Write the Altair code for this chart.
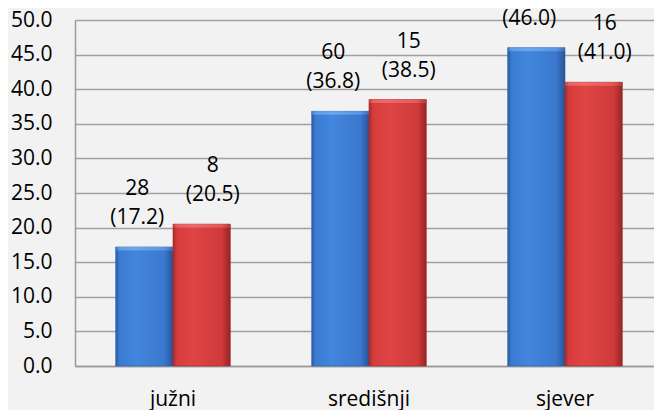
import altair as alt
import pandas as pd

categories = ["južni", "središnji", "sjever"]
series = ["prvi", "drugi"]
blue_pct = [17.2, 36.8, 46.0]
red_pct = [20.5, 38.5, 41.0]
blue_n = [28, 60, 75]
red_n = [8, 15, 16]
y_ticks = [0, 5, 10, 15, 20, 25, 30, 35, 40, 45, 50]

rows = []
for c, p, n in zip(categories, blue_pct, blue_n):
    rows.append({"cat": c, "series": series[0], "pct": p, "label": f"{n}\n({p:.1f})"})
for c, p, n in zip(categories, red_pct, red_n):
    rows.append({"cat": c, "series": series[1], "pct": p, "label": f"{n}\n({p:.1f})"})
df = pd.DataFrame(rows)

FONT = "Open Sans"


def hgrad(c_edge_l, c_mid1, c_mid2, c_mid3, c_edge_r):
    return alt.Gradient(
        gradient="linear", x1=0, x2=1, y1=0, y2=0,
        stops=[
            alt.GradientStop(offset=0, color=c_edge_l),
            alt.GradientStop(offset=0.07, color=c_mid1),
            alt.GradientStop(offset=0.35, color=c_mid2),
            alt.GradientStop(offset=0.85, color=c_mid3),
            alt.GradientStop(offset=1, color=c_edge_r),
        ],
    )


blue_grad = hgrad("#2a5ba6", "#3b7bd2", "#4286dd", "#3a78cd", "#2a5296")
red_grad = hgrad("#a82a2a", "#d63c3c", "#de4444", "#d03a3a", "#962424")
blue_top = hgrad("#3f78c4", "#5f9de8", "#6aa6ee", "#5a96e0", "#3a6cb4")
red_top = hgrad("#c04040", "#e86262", "#ee6a6a", "#e05a5a", "#b03a3a")

x_enc = alt.X(
    "cat:N", sort=categories, title=None,
    scale=alt.Scale(range=[0, 588], paddingInner=0.415, paddingOuter=0.2075),
    axis=alt.Axis(labelAngle=0, labelFontSize=21, labelFont=FONT, labelColor="#000000",
                  ticks=False, domainColor="#9a9a9a", domainWidth=1.5, labelPadding=22),
)
xoff = alt.XOffset("series:N", sort=series, scale=alt.Scale(paddingInner=0, paddingOuter=0))
y_enc = alt.Y(
    "pct:Q", title=None,
    scale=alt.Scale(domain=[0, 50], nice=False),
    axis=alt.Axis(values=y_ticks, format=".1f", labelFontSize=21, labelFont=FONT,
                  labelColor="#000000", ticks=False, domainColor="#9a9a9a", domainWidth=1.5,
                  gridColor="#a0a0a0", gridWidth=1.5, labelPadding=23, labelOverlap=False),
)

base = alt.Chart(df).transform_calculate(cap="datum.pct - 0.5")


def bars(s, grad, stroke):
    return base.transform_filter(alt.datum.series == s).mark_bar(
        color=grad, stroke=stroke, strokeWidth=0.6
    ).encode(x=x_enc, xOffset=xoff, y=y_enc)


def caps(s, grad):
    return base.transform_filter(alt.datum.series == s).mark_bar(color=grad).encode(
        x=x_enc, xOffset=xoff, y=y_enc, y2="cap:Q"
    )


def labels(s, dx):
    return base.transform_filter(alt.datum.series == s).mark_text(
        font=FONT, fontSize=21, color="#000000", lineBreak="\n", lineHeight=29,
        baseline="middle", dy=-58, dx=dx,
    ).encode(x=x_enc, xOffset=xoff, y=y_enc, text="label:N")


chart = alt.layer(
    bars(series[0], blue_grad, "#2d5fa8"),
    bars(series[1], red_grad, "#9e2a2a"),
    caps(series[0], blue_top),
    caps(series[1], red_top),
    labels(series[0], -7),
    labels(series[1], 11),
).properties(
    width=579, height=346,
    autosize=alt.AutoSizeParams(type="none"),
    padding={"left": 67, "top": 12, "right": 0, "bottom": 44},
    background="#f2f2f2",
).configure_view(stroke=None)

chart.save("out.html", embed_options={"renderer": "svg", "actions": False})
